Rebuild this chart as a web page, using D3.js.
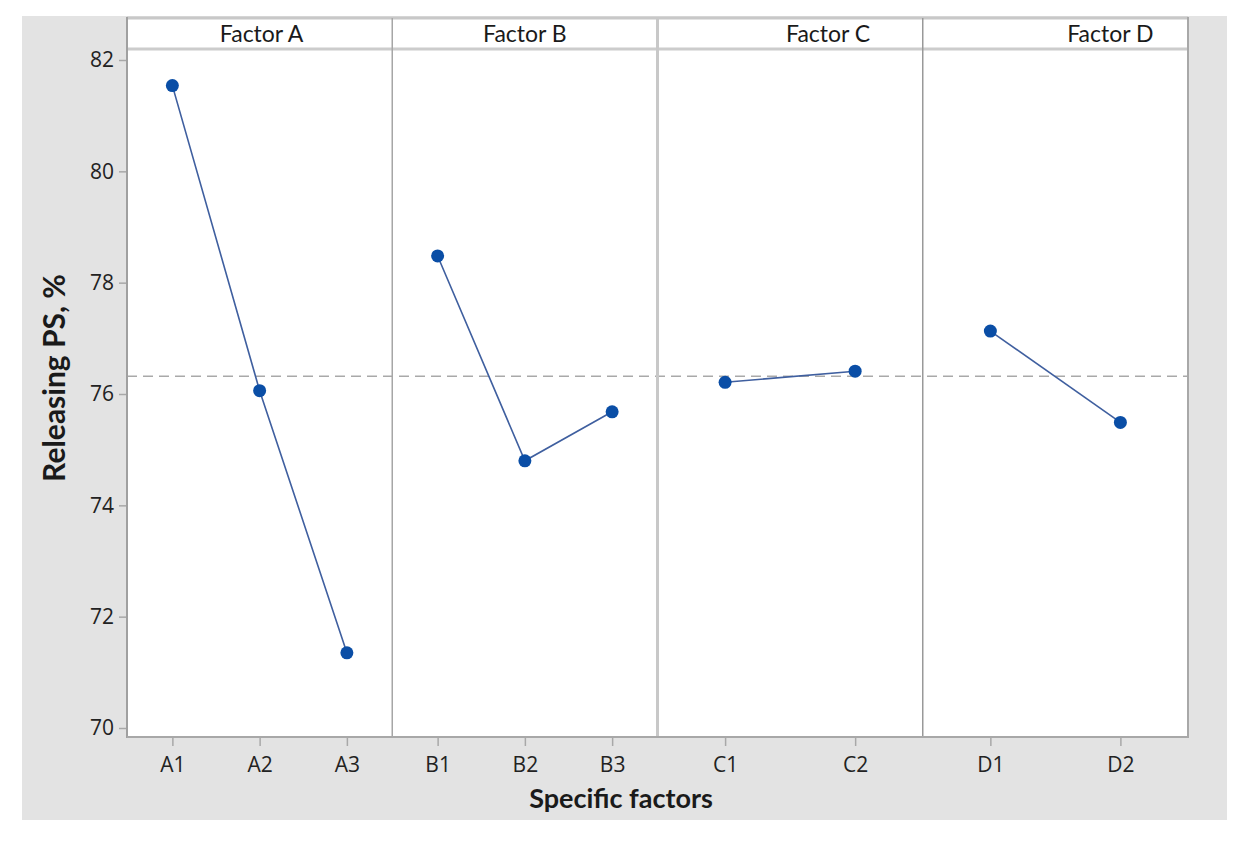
<!DOCTYPE html>
<html>
<head>
<meta charset="utf-8">
<script src="https://cdn.jsdelivr.net/npm/d3@7"></script>
<style>
  html, body { margin: 0; padding: 0; background: #ffffff; }
  svg { display: block; }
</style>
</head>
<body>
<svg id="chart" width="1247" height="842"></svg>
<script>
// ---------- data ----------
const factors = ["Factor A", "Factor B", "Factor C", "Factor D"];
const levelsA = ["A1", "A2", "A3"];
const levelsB = ["B1", "B2", "B3"];
const levelsC = ["C1", "C2"];
const levelsD = ["D1", "D2"];
const meansA = [81.54, 76.06, 71.35];
const meansB = [78.48, 74.80, 75.68];
const meansC = [76.21, 76.41];
const meansD = [77.13, 75.49];
const grandMean = 76.32;
const yTicks = [70, 72, 74, 76, 78, 80, 82];
const yTitle = "Releasing PS, %";
const xTitle = "Specific factors";

const levels = [levelsA, levelsB, levelsC, levelsD];
const means = [meansA, meansB, meansC, meansD];

// ---------- layout ----------
const W = 1247, H = 842;
const bg = { x: 22, y: 16, w: 1205, h: 804 };
const plot = { left: 127, right: 1188, top: 49, bottom: 737 };
const header = { top: 18, bottom: 49 };
const headerShift = [2, 0, 38, 55];

const svg = d3.select("#chart");

svg.append("rect").attr("x", 0).attr("y", 0).attr("width", W).attr("height", H).attr("fill", "#ffffff");
svg.append("rect").attr("x", bg.x).attr("y", bg.y).attr("width", bg.w).attr("height", bg.h).attr("fill", "#e3e3e3");

// white plot + header area
svg.append("rect").attr("x", plot.left).attr("y", header.top)
  .attr("width", plot.right - plot.left).attr("height", plot.bottom - header.top)
  .attr("fill", "#ffffff");

const y = d3.scaleLinear().domain([70, 82]).range([728, 60]);
const panelX = d3.scaleBand().domain(factors).range([plot.left, plot.right]).padding(0);

// header strip lines
svg.append("line").attr("x1", plot.left).attr("x2", plot.right)
  .attr("y1", header.top).attr("y2", header.top)
  .attr("stroke", "#c8c8c8").attr("stroke-width", 3);
svg.append("line").attr("x1", plot.left).attr("x2", plot.right)
  .attr("y1", header.bottom).attr("y2", header.bottom)
  .attr("stroke", "#cccccc").attr("stroke-width", 3);

// header labels
svg.append("g").selectAll("text").data(factors).join("text")
  .attr("x", (d, i) => panelX(d) + panelX.bandwidth() / 2 + headerShift[i])
  .attr("y", 42)
  .attr("text-anchor", "middle")
  .attr("font-family", "Lato, 'Open Sans', sans-serif")
  .attr("font-size", 23)
  .attr("fill", "#1a1a1a")
  .text(d => d);

// grand mean dashed line
svg.append("line")
  .attr("x1", plot.left).attr("x2", plot.right)
  .attr("y1", y(grandMean)).attr("y2", y(grandMean))
  .attr("stroke", "#a9a9a9").attr("stroke-width", 1.6)
  .attr("stroke-dasharray", "10,6");

// panel dividers
const dividerStyle = [
  { c: "#a6a6a6", w: 1.5 },
  { c: "#c8c8c8", w: 3 },
  { c: "#999999", w: 1.5 }
];
factors.slice(1).forEach((f, i) => {
  svg.append("line")
    .attr("x1", panelX(f)).attr("x2", panelX(f))
    .attr("y1", header.top).attr("y2", plot.bottom)
    .attr("stroke", dividerStyle[i].c).attr("stroke-width", dividerStyle[i].w);
});

// outer frame
svg.append("line").attr("x1", plot.left).attr("x2", plot.left)
  .attr("y1", header.top - 1).attr("y2", plot.bottom + 1)
  .attr("stroke", "#a0a0a0").attr("stroke-width", 2);
svg.append("line").attr("x1", plot.right).attr("x2", plot.right)
  .attr("y1", header.top - 1).attr("y2", plot.bottom + 1)
  .attr("stroke", "#a8a8a8").attr("stroke-width", 2);
svg.append("line").attr("x1", plot.left).attr("x2", plot.right)
  .attr("y1", plot.bottom).attr("y2", plot.bottom)
  .attr("stroke", "#a8a8a8").attr("stroke-width", 2);

// y axis
const yAxis = d3.axisLeft(y).tickValues(yTicks).tickSize(7).tickPadding(5).tickFormat(d3.format("d"));
const gy = svg.append("g").attr("transform", `translate(${plot.left - 1},0)`).call(yAxis);
gy.select(".domain").remove();
gy.selectAll(".tick line").attr("stroke", "#a8a8a8").attr("stroke-width", 1.5);
gy.selectAll(".tick text")
  .attr("font-family", "'Open Sans', sans-serif")
  .attr("font-size", 21)
  .attr("fill", "#222");

// panels: x axes, lines, points
const lineGen = d3.line();
factors.forEach((f, i) => {
  const x0 = panelX(f), x1 = x0 + panelX.bandwidth();
  const xs = d3.scalePoint().domain(levels[i]).range([x0, x1]).padding(0.52);

  const xAxis = d3.axisBottom(xs).tickSize(8).tickPadding(11);
  const gx = svg.append("g").attr("transform", `translate(0,${plot.bottom + 1})`).call(xAxis);
  gx.select(".domain").remove();
  gx.selectAll(".tick line").attr("stroke", "#a8a8a8").attr("stroke-width", 1.5);
  gx.selectAll(".tick text")
    .attr("font-family", "'Open Sans', sans-serif")
    .attr("font-size", 21)
    .attr("fill", "#222");

  const pts = levels[i].map((l, j) => [xs(l), y(means[i][j])]);
  svg.append("path")
    .attr("d", lineGen(pts))
    .attr("fill", "none")
    .attr("stroke", "#3f5f9f")
    .attr("stroke-width", 1.6);

  svg.append("g").selectAll("circle").data(pts).join("circle")
    .attr("cx", d => d[0]).attr("cy", d => d[1])
    .attr("r", 6.5)
    .attr("fill", "#0a4ea6");
});

// axis titles
svg.append("text")
  .attr("x", 621).attr("y", 808)
  .attr("text-anchor", "middle")
  .attr("font-family", "Lato, 'Open Sans', sans-serif")
  .attr("font-weight", "bold")
  .attr("font-size", 27)
  .attr("fill", "#1a1a1a")
  .text(xTitle);

svg.append("text")
  .attr("transform", `translate(65,378) rotate(-90)`)
  .attr("text-anchor", "middle")
  .attr("font-family", "Lato, 'Open Sans', sans-serif")
  .attr("font-weight", "bold")
  .attr("font-size", 30)
  .attr("fill", "#1a1a1a")
  .text(yTitle);
</script>
</body>
</html>
